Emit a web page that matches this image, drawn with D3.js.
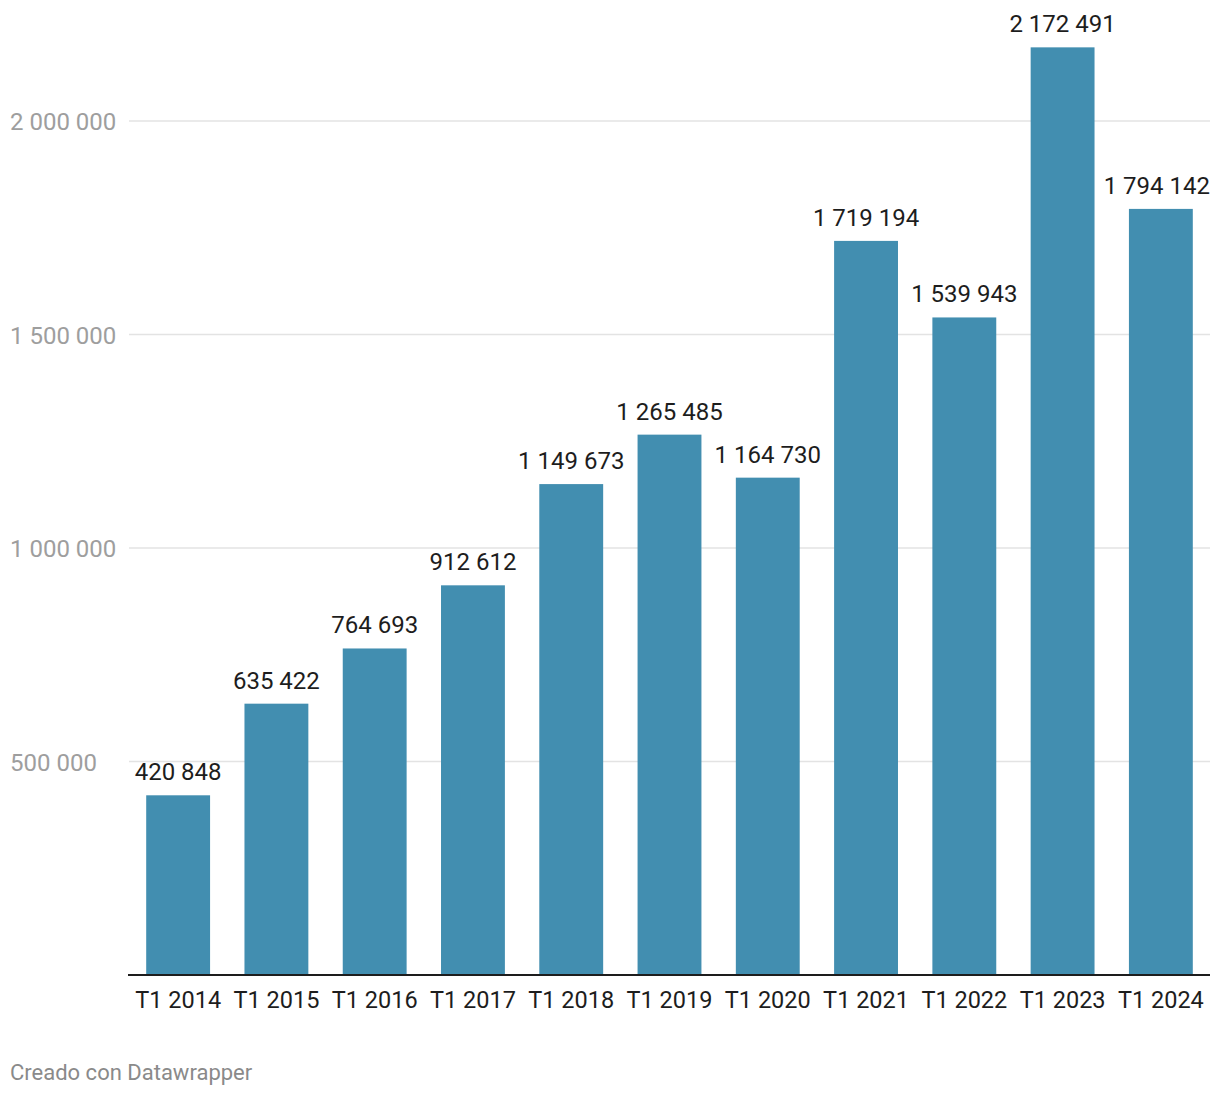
<!DOCTYPE html>
<html>
<head>
<meta charset="utf-8">
<script src="https://cdn.jsdelivr.net/npm/d3@7"></script>
<style>
  html, body { margin: 0; padding: 0; background: #fff; }
  svg { display: block; font-family: Roboto, sans-serif; }
</style>
</head>
<body>
<svg id="chart" width="1220" height="1096"></svg>
<script>
const categories = ["T1 2014","T1 2015","T1 2016","T1 2017","T1 2018","T1 2019","T1 2020","T1 2021","T1 2022","T1 2023","T1 2024"];
const values = [420848, 635422, 764693, 912612, 1149673, 1265485, 1164730, 1719194, 1539943, 2172491, 1794142];
const yTicks = [500000, 1000000, 1500000, 2000000];
const footer = "Creado con Datawrapper";

(function () {
const svg = d3.select("#chart");
const mLeft = 129, mRight = 1210, mTop = 121, mBottom = 975;
const fmt = d3.formatLocale({decimal: ",", thousands: " ", grouping: [3], currency: ["", ""]}).format(",d");

const x = d3.scaleBand().domain(categories).range([mLeft, mRight]).paddingInner(0.35).paddingOuter(0.175);
const y = d3.scaleLinear().domain([0, 2000000]).range([mBottom, mTop]);

svg.append("g").selectAll("line").data(yTicks).join("line")
  .attr("x1", mLeft).attr("x2", mRight)
  .attr("y1", d => y(d)).attr("y2", d => y(d))
  .attr("stroke", "#e3e3e3").attr("stroke-width", 1.5);

svg.append("g").selectAll("text").data(yTicks).join("text")
  .attr("x", 10).attr("y", d => y(d) + 1).attr("dy", "0.35em")
  .attr("fill", "#9e9e9e").attr("font-size", 24)
  .text(d => fmt(d));

svg.append("g").selectAll("rect").data(values).join("rect")
  .attr("x", (d, i) => x(categories[i]))
  .attr("width", x.bandwidth())
  .attr("y", d => y(d))
  .attr("height", d => mBottom - y(d))
  .attr("fill", "#428eb0");

svg.append("g").selectAll("text").data(values).join("text")
  .attr("x", (d, i) => x(categories[i]) + x.bandwidth() / 2)
  .attr("y", d => y(d) - 15)
  .attr("text-anchor", "middle")
  .attr("fill", "#1d1d1d").attr("font-size", 24)
  .text(d => fmt(d))
  .each(function (d, i) {
    const w = this.getComputedTextLength();
    const cx = x(categories[i]) + x.bandwidth() / 2;
    if (cx + w / 2 > mRight) d3.select(this).attr("x", mRight - w / 2);
  });

svg.append("line").attr("x1", mLeft - 1).attr("x2", mRight)
  .attr("y1", mBottom).attr("y2", mBottom)
  .attr("stroke", "#1d1d1d").attr("stroke-width", 2);

const xAxis = d3.axisBottom(x).tickSize(0).tickPadding(0);
const gx = svg.append("g").attr("transform", `translate(0,${mBottom})`).call(xAxis);
gx.select(".domain").remove();
gx.selectAll("text").attr("y", 33).attr("dy", null)
  .attr("fill", "#1d1d1d").attr("font-size", 23.5).attr("font-family", "Roboto, sans-serif");

svg.append("text").attr("x", 10).attr("y", 1080)
  .attr("fill", "#8a8a8a").attr("font-size", 22)
  .text(footer);
})();
</script>
</body>
</html>
